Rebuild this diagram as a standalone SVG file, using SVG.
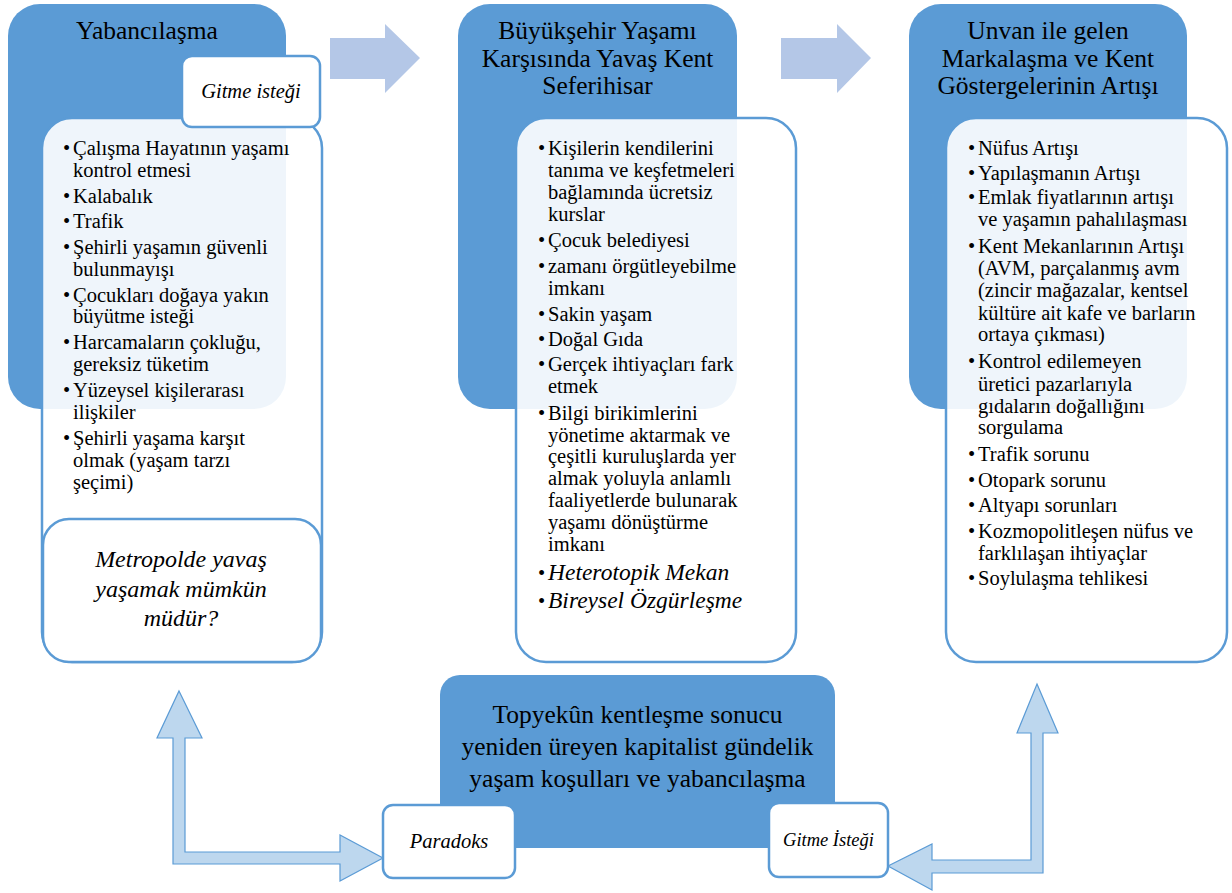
<svg xmlns="http://www.w3.org/2000/svg" width="1232" height="893" viewBox="0 0 1232 893" font-family="Liberation Serif">
<defs>
<style>
.hdr{fill:#5B9BD5}
.lst{fill:#FFFFFF;fill-opacity:0.9;stroke:#5B9BD5;stroke-width:2.5}
.lbl{fill:#FFFFFF;stroke:#5B9BD5;stroke-width:2.5}
.arr{fill:#B4C7E7}
.barr{fill:#BDD7EE;stroke:#5B9BD5;stroke-width:1.2}
.t{font-size:25.5px;text-anchor:middle;fill:#000}
.b{font-size:20.5px;fill:#000}
.bi{font-size:23.5px;font-style:italic;fill:#000}
.it{font-style:italic;text-anchor:middle;fill:#000}
</style>
</defs>
<rect width="1232" height="893" fill="#FFFFFF"/>

<g id="connectors">
<polygon class="arr" points="330,38 385,38 385,24 420,58 385,93 385,79 330,79"/>
<polygon class="arr" points="781,38 837,38 837,24 871,58 837,93 837,79 781,79"/>
<polygon class="barr" points="179,691 202,738 185,738 185,852 340,852 340,835 383,858 340,881 340,864 173,864 173,738 157,738"/>
<polygon class="barr" points="1037,684 1058,733 1043,733 1043,873 932,873 932,890 888,866 932,844 932,860 1031,860 1031,733 1017,733"/>
</g>

<g id="node-yabancilasma">
<rect class="hdr" x="8" y="4" width="278" height="405" rx="32"/>
<text class="t" x="147" y="39" font-size="26.5">Yabancılaşma</text>
</g>
<g id="node-yabancilasma-list">
<rect class="lst" x="42" y="118" width="280" height="544" rx="30"/>
<g class="b">
<text x="63" y="155">•</text><text x="73" y="155">Çalışma Hayatının yaşamı</text>
<text x="73" y="177">kontrol etmesi</text>
<text x="63" y="203">•</text><text x="73" y="203">Kalabalık</text>
<text x="63" y="228">•</text><text x="73" y="228">Trafik</text>
<text x="63" y="254">•</text><text x="73" y="254">Şehirli yaşamın güvenli</text>
<text x="73" y="276">bulunmayışı</text>
<text x="63" y="302">•</text><text x="73" y="302">Çocukları doğaya yakın</text>
<text x="73" y="323">büyütme isteği</text>
<text x="63" y="349">•</text><text x="73" y="349">Harcamaların çokluğu,</text>
<text x="73" y="371">gereksiz tüketim</text>
<text x="63" y="397">•</text><text x="73" y="397">Yüzeysel kişilerarası</text>
<text x="73" y="419">ilişkiler</text>
<text x="63" y="445">•</text><text x="73" y="445">Şehirli yaşama karşıt</text>
<text x="73" y="467">olmak (yaşam tarzı</text>
<text x="73" y="489">şeçimi)</text>
</g>
</g>
<g id="node-gitme-istegi-top">
<rect class="lbl" x="182" y="56" width="138" height="71" rx="10"/>
<text class="it" x="251" y="98" font-size="20.5">Gitme isteği</text>
</g>
<g id="node-metropol">
<rect class="lbl" x="43" y="519" width="278" height="143" rx="26"/>
<text class="it" x="181" y="567" font-size="24">Metropolde yavaş</text>
<text class="it" x="181" y="597" font-size="24">yaşamak mümkün</text>
<text class="it" x="181" y="626" font-size="24">müdür?</text>
</g>

<g id="node-buyuksehir">
<rect class="hdr" x="458" y="4" width="279" height="405" rx="32"/>
<text class="t" x="597.5" y="39">Büyükşehir Yaşamı</text>
<text class="t" x="597.5" y="67">Karşısında Yavaş Kent</text>
<text class="t" x="597.5" y="94">Seferihisar</text>
</g>
<g id="node-buyuksehir-list">
<rect class="lst" x="516" y="118" width="280" height="544" rx="30"/>
<g class="b">
<text x="538" y="155">•</text><text x="548" y="155">Kişilerin kendilerini</text>
<text x="548" y="177">tanıma ve keşfetmeleri</text>
<text x="548" y="199">bağlamında ücretsiz</text>
<text x="548" y="221">kurslar</text>
<text x="538" y="247">•</text><text x="548" y="247">Çocuk belediyesi</text>
<text x="538" y="273">•</text><text x="548" y="273">zamanı örgütleyebilme</text>
<text x="548" y="295">imkanı</text>
<text x="538" y="321">•</text><text x="548" y="321">Sakin yaşam</text>
<text x="538" y="346">•</text><text x="548" y="346">Doğal Gıda</text>
<text x="538" y="371">•</text><text x="548" y="371">Gerçek ihtiyaçları fark</text>
<text x="548" y="393">etmek</text>
<text x="538" y="420">•</text><text x="548" y="420">Bilgi birikimlerini</text>
<text x="548" y="442">yönetime aktarmak ve</text>
<text x="548" y="463">çeşitli kuruluşlarda yer</text>
<text x="548" y="485">almak yoluyla anlamlı</text>
<text x="548" y="507">faaliyetlerde bulunarak</text>
<text x="548" y="529">yaşamı dönüştürme</text>
<text x="548" y="551">imkanı</text>
</g>
<text class="b" x="538" y="580">•</text><text class="bi" x="548" y="580">Heterotopik Mekan</text>
<text class="b" x="538" y="608">•</text><text class="bi" x="548" y="608">Bireysel Özgürleşme</text>
</g>

<g id="node-unvan">
<rect class="hdr" x="909" y="4" width="278" height="405" rx="32"/>
<text class="t" x="1048" y="39">Unvan ile gelen</text>
<text class="t" x="1048" y="67">Markalaşma ve Kent</text>
<text class="t" x="1048" y="94">Göstergelerinin Artışı</text>
</g>
<g id="node-unvan-list">
<rect class="lst" x="946" y="118" width="281" height="544" rx="30"/>
<g class="b">
<text x="968" y="155">•</text><text x="978" y="155">Nüfus Artışı</text>
<text x="968" y="180">•</text><text x="978" y="180">Yapılaşmanın Artışı</text>
<text x="968" y="204">•</text><text x="978" y="204">Emlak fiyatlarının artışı</text>
<text x="978" y="226">ve yaşamın pahalılaşması</text>
<text x="968" y="253">•</text><text x="978" y="253">Kent Mekanlarının Artışı</text>
<text x="978" y="275">(AVM, parçalanmış avm</text>
<text x="978" y="297">(zincir mağazalar, kentsel</text>
<text x="978" y="320">kültüre ait kafe ve barların</text>
<text x="978" y="341">ortaya çıkması)</text>
<text x="968" y="368">•</text><text x="978" y="368">Kontrol edilemeyen</text>
<text x="978" y="391">üretici pazarlarıyla</text>
<text x="978" y="413">gıdaların doğallığını</text>
<text x="978" y="434">sorgulama</text>
<text x="968" y="461">•</text><text x="978" y="461">Trafik sorunu</text>
<text x="968" y="487">•</text><text x="978" y="487">Otopark sorunu</text>
<text x="968" y="512">•</text><text x="978" y="512">Altyapı sorunları</text>
<text x="968" y="538">•</text><text x="978" y="538">Kozmopolitleşen nüfus ve</text>
<text x="978" y="560">farklılaşan ihtiyaçlar</text>
<text x="968" y="585">•</text><text x="978" y="585">Soylulaşma tehlikesi</text>
</g>
</g>

<g id="node-topyekun">
<rect class="hdr" x="440" y="675" width="395" height="173" rx="20"/>
<text class="t" x="637.5" y="723" font-size="24.5">Topyekûn kentleşme sonucu</text>
<text class="t" x="637.5" y="755" font-size="24.5">yeniden üreyen kapitalist gündelik</text>
<text class="t" x="637.5" y="787" font-size="24.5">yaşam koşulları ve yabancılaşma</text>
</g>
<g id="node-paradoks">
<rect class="lbl" x="383" y="805" width="132" height="73" rx="10"/>
<text class="it" x="449" y="848" font-size="20.5">Paradoks</text>
</g>
<g id="node-gitme-istegi-bottom">
<rect class="lbl" x="769" y="803" width="119" height="74" rx="10"/>
<text class="it" x="828.5" y="846" font-size="18.5">Gitme İsteği</text>
</g>
</svg>
